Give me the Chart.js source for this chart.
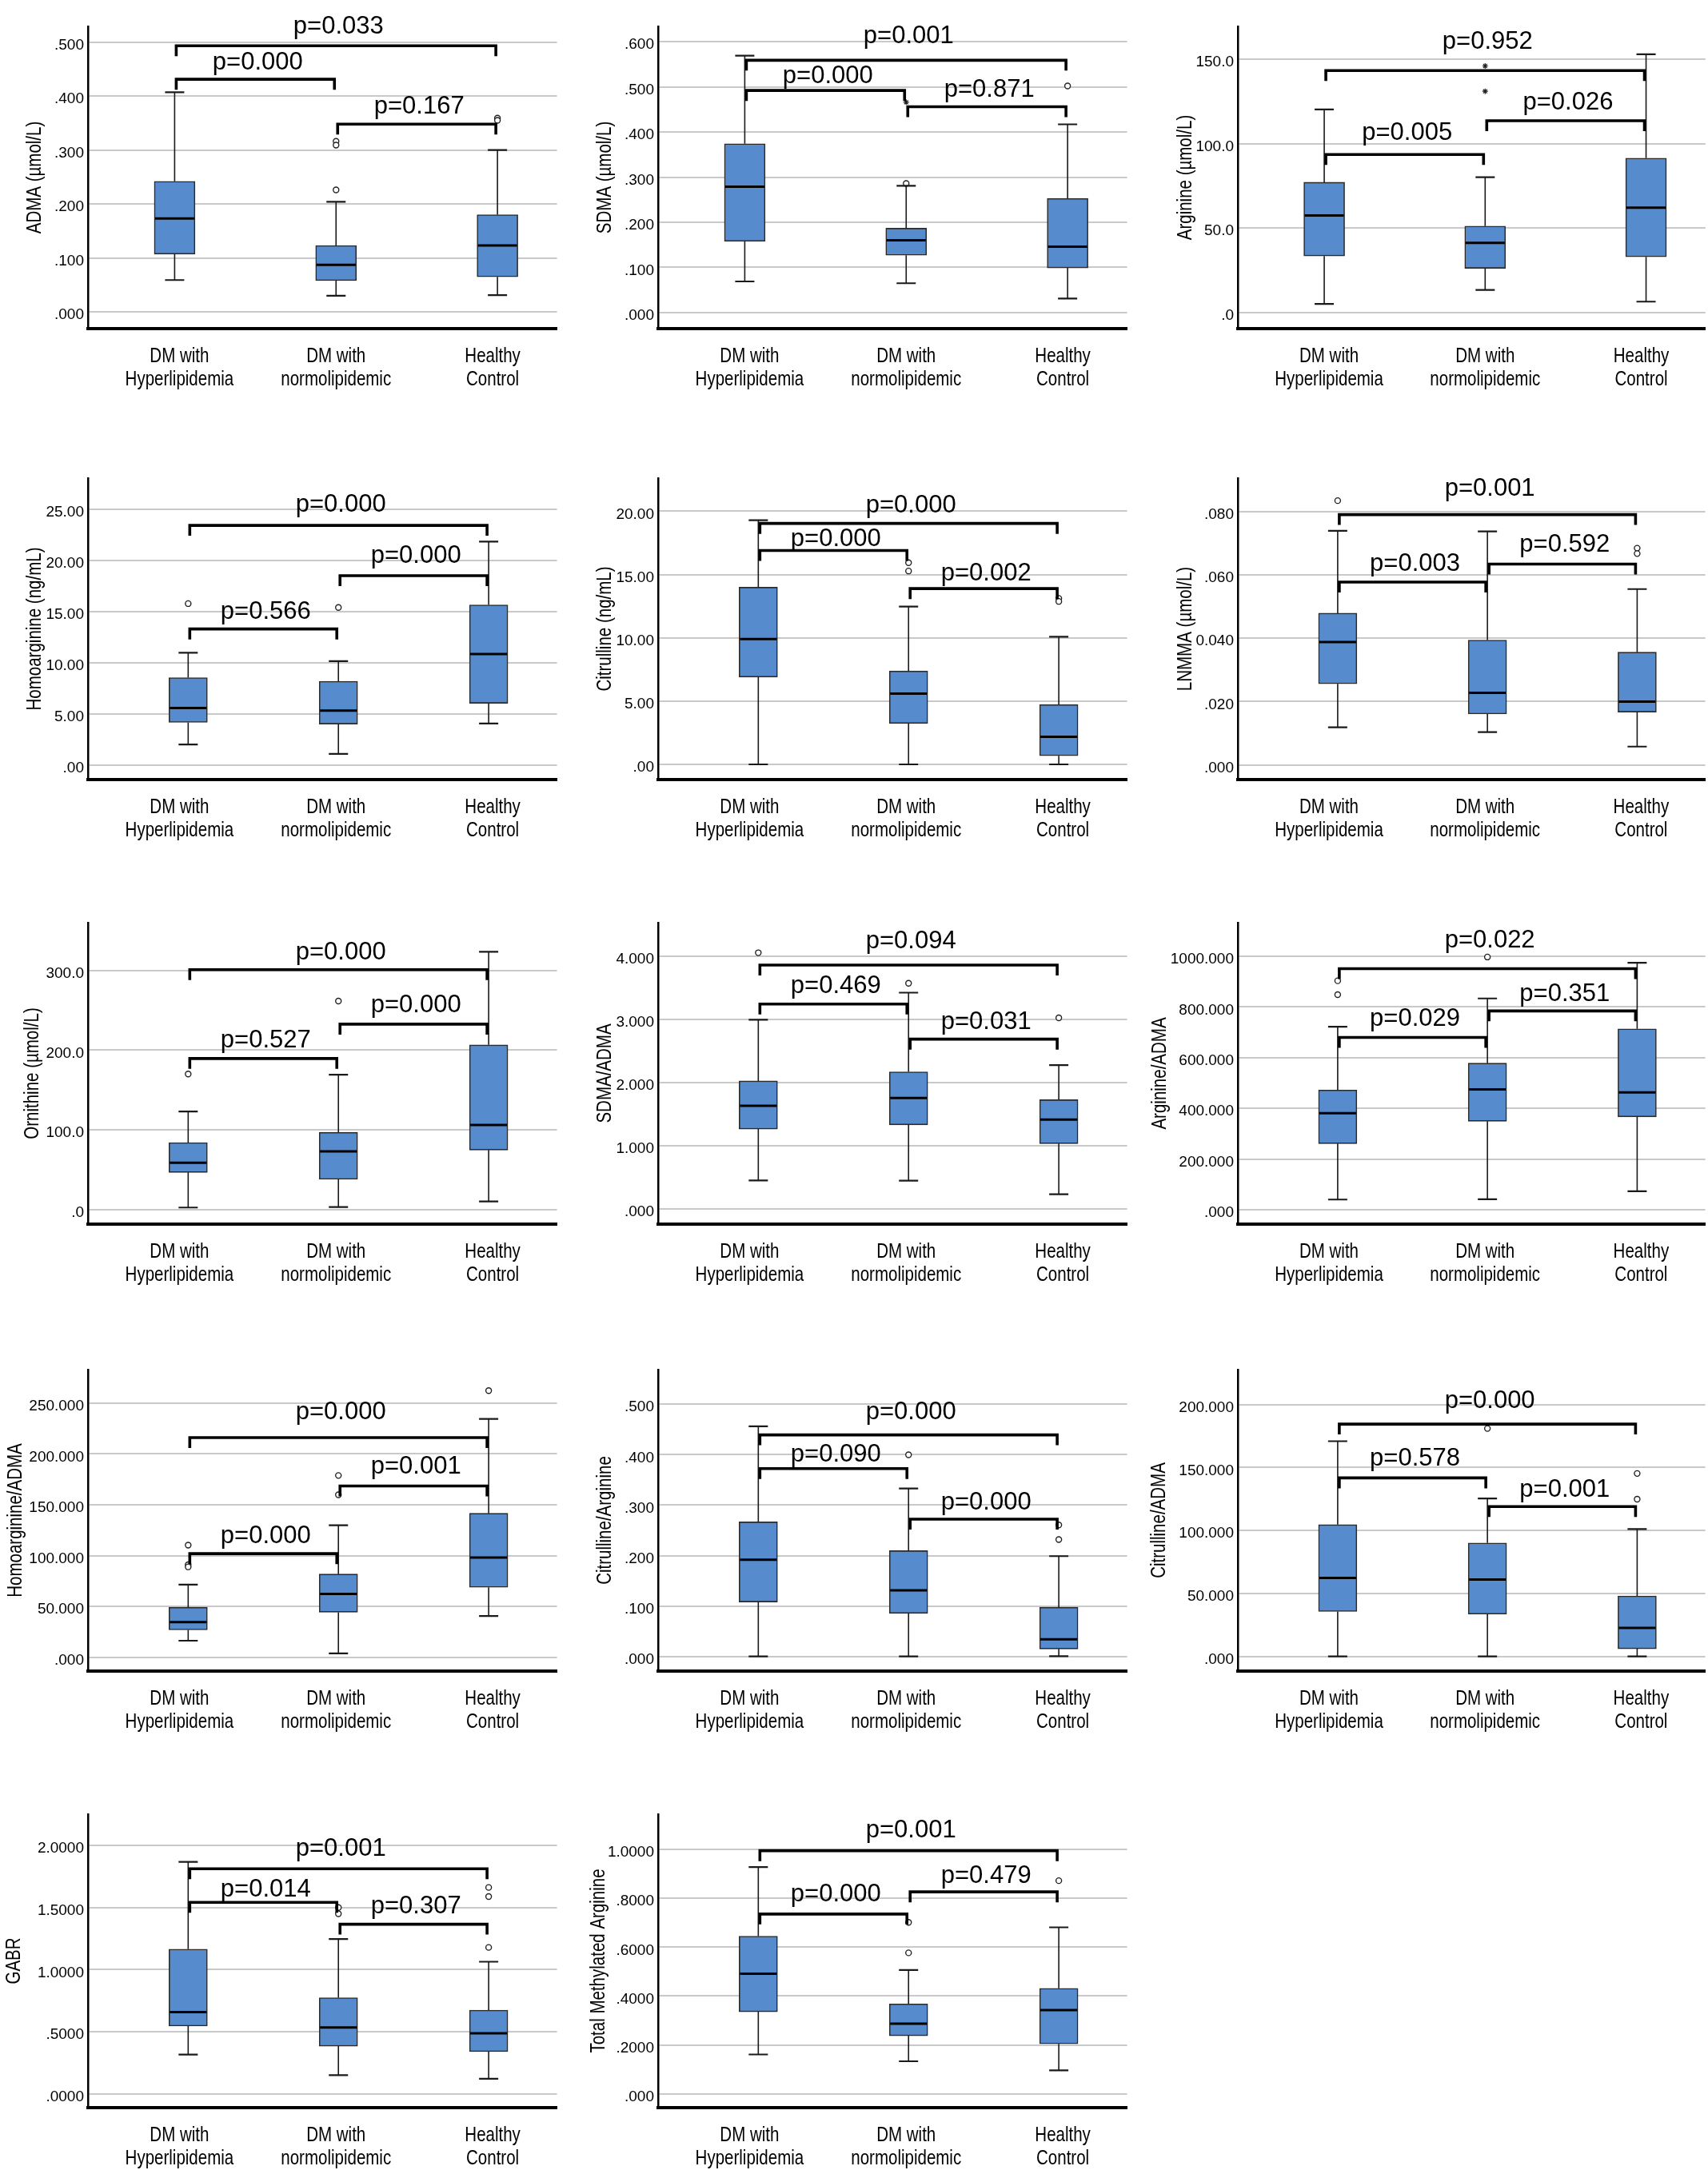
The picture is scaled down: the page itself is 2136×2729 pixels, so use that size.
<!DOCTYPE html>
<html><head><meta charset="utf-8">
<script src="https://cdn.jsdelivr.net/npm/chart.js@4.4.1/dist/chart.umd.min.js"></script>
<style>
html,body{margin:0;padding:0;background:#fff;width:2136px;height:2729px;overflow:hidden;position:relative}
canvas{position:absolute}
</style></head><body>
<script>
// ---------- DATA ----------
const categories = [['DM with','Hyperlipidemia'],['DM with','normolipidemic'],['Healthy','Control']];
// box stats per group: [lower whisker, Q1, median, Q3, upper whisker]

const ADMA_title = 'ADMA (µmol/L)';
const ADMA_range = [-0.031, 0.529];
const ADMA_ticks = [0, 0.1, 0.2, 0.3, 0.4, 0.5];
const ADMA_tickLabels = ['.000','.100','.200','.300','.400','.500'];
const ADMA_box = [[0.059,0.107,0.173,0.242,0.407],[0.030,0.058,0.087,0.123,0.204],[0.031,0.065,0.123,0.180,0.300]];
const ADMA_outliers = [[2,0.316],[2,0.309],[2,0.226],[3,0.359],[3,0.355]];
const ADMA_extremes = [];
const ADMA_brackets = [[1,3,0.493],[1,2,0.431],[2,3,0.348]];
const ADMA_p = ['p=0.033','p=0.000','p=0.167'];

const SDMA_title = 'SDMA (µmol/L)';
const SDMA_range = [-0.0355, 0.634];
const SDMA_ticks = [0, 0.1, 0.2, 0.3, 0.4, 0.5, 0.6];
const SDMA_tickLabels = ['.000','.100','.200','.300','.400','.500','.600'];
const SDMA_box = [[0.069,0.158,0.279,0.374,0.569],[0.065,0.127,0.160,0.187,0.281],[0.031,0.099,0.146,0.253,0.417]];
const SDMA_outliers = [[2,0.286],[3,0.502]];
const SDMA_extremes = [[2,0.466]];
const SDMA_brackets = [[1,3,0.559],[1,2,0.492],[2,3,0.456]];
const SDMA_p = ['p=0.001','p=0.000','p=0.871'];

const ARG_title = 'Arginine (µmol/L)';
const ARG_range = [-9.47, 169.3];
const ARG_ticks = [0, 50, 100, 150];
const ARG_tickLabels = ['.0','50.0','100.0','150.0'];
const ARG_box = [[5.1,33.5,57.5,77.1,120.2],[13.4,26.2,41.2,51.2,80.1],[6.5,33.0,62.1,91.4,152.8]];
const ARG_outliers = [];
const ARG_extremes = [[2,145.9],[2,130.9]];
const ARG_brackets = [[1,3,143.2],[1,2,93.5],[2,3,113.5]];
const ARG_p = ['p=0.952','p=0.005','p=0.026'];

const HARG_title = 'Homoarginine (ng/mL)';
const HARG_range = [-1.43, 28.05];
const HARG_ticks = [0, 5, 10, 15, 20, 25];
const HARG_tickLabels = ['.00','5.00','10.00','15.00','20.00','25.00'];
const HARG_box = [[2.0,4.16,5.57,8.54,10.97],[1.08,4.0,5.32,8.19,10.16],[4.05,6.03,10.84,15.65,21.84]];
const HARG_outliers = [[1,15.78],[2,15.4]];
const HARG_extremes = [];
const HARG_brackets = [[1,3,23.43],[2,3,18.51],[1,2,13.3]];
const HARG_p = ['p=0.000','p=0.000','p=0.566'];

const CIT_title = 'Citrulline (ng/mL)';
const CIT_range = [-1.2, 22.62];
const CIT_ticks = [0, 5, 10, 15, 20];
const CIT_tickLabels = ['.00','5.00','10.00','15.00','20.00'];
const CIT_box = [[0,6.9,9.91,14.0,19.3],[0,3.23,5.59,7.38,12.47],[0,0.68,2.18,4.72,10.09]];
const CIT_outliers = [[2,15.94],[2,15.28],[3,13.12],[3,12.88]];
const CIT_extremes = [];
const CIT_brackets = [[1,3,19.04],[1,2,16.9],[2,3,13.89]];
const CIT_p = ['p=0.000','p=0.000','p=0.002'];

const LNMMA_title = 'LNMMA (µmol/L)';
const LNMMA_range = [-0.0046, 0.0905];
const LNMMA_ticks = [0, 0.02, 0.04, 0.06, 0.08];
const LNMMA_tickLabels = ['.000','.020','0.040','.060','.080'];
const LNMMA_box = [[0.0119,0.0256,0.0388,0.0479,0.0739],[0.0104,0.0161,0.0228,0.0394,0.0737],[0.0058,0.0167,0.0200,0.0356,0.0555]];
const LNMMA_outliers = [[1,0.0834],[3,0.0684],[3,0.0667]];
const LNMMA_extremes = [];
const LNMMA_brackets = [[1,3,0.079],[1,2,0.0577],[2,3,0.0634]];
const LNMMA_p = ['p=0.001','p=0.003','p=0.592'];

const ORN_title = 'Ornithine (µmol/L)';
const ORN_range = [-18.0, 359.6];
const ORN_ticks = [0, 100, 200, 300];
const ORN_tickLabels = ['.0','100.0','200.0','300.0'];
const ORN_box = [[2.8,46.8,58.9,84.2,123.0],[3.5,38.1,73.1,97.0,169.1],[10.4,74.8,106.3,206.5,323.2]];
const ORN_outliers = [[1,170.1],[2,261.5]];
const ORN_extremes = [];
const ORN_brackets = [[1,3,300.7],[2,3,232.5],[1,2,189.5]];
const ORN_p = ['p=0.000','p=0.000','p=0.527'];

const SA_title = 'SDMA/ADMA';
const SA_range = [-0.24, 4.525];
const SA_ticks = [0, 1, 2, 3, 4];
const SA_tickLabels = ['.000','1.000','2.000','3.000','4.000'];
const SA_box = [[0.45,1.263,1.631,2.024,2.99],[0.446,1.329,1.753,2.168,3.419],[0.232,1.032,1.412,1.727,2.273]];
const SA_outliers = [[1,4.05],[2,3.567],[3,3.02]];
const SA_extremes = [];
const SA_brackets = [[1,3,3.856],[1,2,3.239],[2,3,2.684]];
const SA_p = ['p=0.094','p=0.469','p=0.031'];

const AA_title = 'Arginine/ADMA';
const AA_range = [-56.7, 1132];
const AA_ticks = [0, 200, 400, 600, 800, 1000];
const AA_tickLabels = ['.000','200.000','400.000','600.000','800.000','1000.000'];
const AA_box = [[40.3,260.6,380.6,472.2,721.9],[41.4,349,474.4,578,833.2],[73.1,366.4,462.4,713.2,973.8]];
const AA_outliers = [[1,903],[1,848.4],[2,996.7]];
const AA_extremes = [];
const AA_brackets = [[1,3,950.9],[1,2,679.4],[2,3,784.1]];
const AA_p = ['p=0.022','p=0.029','p=0.351'];

const HA_title = 'Homoarginine/ADMA';
const HA_range = [-13.6, 282.9];
const HA_ticks = [0, 50, 100, 150, 200, 250];
const HA_tickLabels = ['.000','50.000','100.000','150.000','200.000','250.000'];
const HA_box = [[16.3,26.9,34.5,49.2,71.5],[3.8,44.3,62.2,81.8,129.9],[40.5,68.8,98.1,141.6,234.5]];
const HA_outliers = [[1,110.3],[1,91.0],[1,88.9],[2,178.8],[2,159.8],[3,262.2]];
const HA_extremes = [];
const HA_brackets = [[1,3,216],[2,3,168.5],[1,2,101.9]];
const HA_p = ['p=0.000','p=0.001','p=0.000'];

const CA_title = 'Citrulline/Arginine';
const CA_range = [-0.029, 0.5685];
const CA_ticks = [0, 0.1, 0.2, 0.3, 0.4, 0.5];
const CA_tickLabels = ['.000','.100','.200','.300','.400','.500'];
const CA_box = [[0,0.1079,0.1917,0.2667,0.4562],[0,0.0854,0.1309,0.2097,0.333],[0.0005,0.0148,0.034,0.0975,0.1988]];
const CA_outliers = [[2,0.3998],[3,0.2607],[3,0.2317]];
const CA_extremes = [];
const CA_brackets = [[1,3,0.4392],[1,2,0.3724],[2,3,0.2722]];
const CA_p = ['p=0.000','p=0.090','p=0.000'];

const CD_title = 'Citrulline/ADMA';
const CD_range = [-11.6, 227.6];
const CD_ticks = [0, 50, 100, 150, 200];
const CD_tickLabels = ['.000','50.000','100.000','150.000','200.000'];
const CD_box = [[0,35.7,62.3,104.6,170.8],[0,33.6,61.0,90.1,125.4],[0,6.1,22.6,48.0,101.1]];
const CD_outliers = [[2,180.9],[3,145.2],[3,124.8]];
const CD_extremes = [];
const CD_brackets = [[1,3,184.4],[1,2,141.7],[2,3,118.9]];
const CD_p = ['p=0.000','p=0.578','p=0.001'];

const GABR_title = 'GABR';
const GABR_range = [-0.111, 2.252];
const GABR_ticks = [0, 0.5, 1, 1.5, 2];
const GABR_tickLabels = ['.0000','.5000','1.0000','1.5000','2.0000'];
const GABR_box = [[0.317,0.5456,0.659,1.165,1.868],[0.151,0.384,0.535,0.774,1.2466],[0.122,0.34,0.487,0.674,1.064]];
const GABR_outliers = [[2,1.50],[2,1.45],[3,1.662],[3,1.589],[3,1.179]];
const GABR_extremes = [];
const GABR_brackets = [[1,3,1.813],[1,2,1.542],[2,3,1.366]];
const GABR_p = ['p=0.001','p=0.014','p=0.307'];

const TMA_title = 'Total Methylated Arginine';
const TMA_range = [-0.0565, 1.144];
const TMA_ticks = [0, 0.2, 0.4, 0.6, 0.8, 1.0];
const TMA_tickLabels = ['.000','.2000','.4000','.6000','.8000','1.0000'];
const TMA_box = [[0.161,0.3358,0.4915,0.645,0.9275],[0.1333,0.2377,0.2868,0.3678,0.5064],[0.0959,0.2047,0.3422,0.4318,0.6812]];
const TMA_outliers = [[2,0.7015],[2,0.5768],[3,0.872]];
const TMA_extremes = [];
const TMA_brackets = [[1,3,0.9947],[1,2,0.7356],[2,3,0.8262]];
const TMA_p = ['p=0.001','p=0.000','p=0.479'];

// ---------- TABLE (built from the arrays above; titleOff / gaps are layout) ----------
const panels = [
  {title:ADMA_title, range:ADMA_range, ticks:ADMA_ticks, labels:ADMA_tickLabels, box:ADMA_box, out:ADMA_outliers, ext:ADMA_extremes, br:ADMA_brackets, p:ADMA_p, titleOff:66, gaps:[15,12,13]},
  {title:SDMA_title, range:SDMA_range, ticks:SDMA_ticks, labels:SDMA_tickLabels, box:SDMA_box, out:SDMA_outliers, ext:SDMA_extremes, br:SDMA_brackets, p:SDMA_p, titleOff:66, gaps:[21,9,12]},
  {title:ARG_title, range:ARG_range, ticks:ARG_ticks, labels:ARG_tickLabels, box:ARG_box, out:ARG_outliers, ext:ARG_extremes, br:ARG_brackets, p:ARG_p, titleOff:65, gaps:[27,18,14]},
  {title:HARG_title, range:HARG_range, ticks:HARG_ticks, labels:HARG_tickLabels, box:HARG_box, out:HARG_outliers, ext:HARG_extremes, br:HARG_brackets, p:HARG_p, titleOff:66, gaps:[17,16,13]},
  {title:CIT_title, range:CIT_range, ticks:CIT_ticks, labels:CIT_tickLabels, box:CIT_box, out:CIT_outliers, ext:CIT_extremes, br:CIT_brackets, p:CIT_p, titleOff:66, gaps:[14,6,10]},
  {title:LNMMA_title, range:LNMMA_range, ticks:LNMMA_ticks, labels:LNMMA_tickLabels, box:LNMMA_box, out:LNMMA_outliers, ext:LNMMA_extremes, br:LNMMA_brackets, p:LNMMA_p, titleOff:65, gaps:[24,14,15]},
  {title:ORN_title, range:ORN_range, ticks:ORN_ticks, labels:ORN_tickLabels, box:ORN_box, out:ORN_outliers, ext:ORN_extremes, br:ORN_brackets, p:ORN_p, titleOff:69, gaps:[13,14.5,14]},
  {title:SA_title, range:SA_range, ticks:SA_ticks, labels:SA_tickLabels, box:SA_box, out:SA_outliers, ext:SA_extremes, br:SA_brackets, p:SA_p, titleOff:66, gaps:[21,14,13]},
  {title:AA_title, range:AA_range, ticks:AA_ticks, labels:AA_tickLabels, box:AA_box, out:AA_outliers, ext:AA_extremes, br:AA_brackets, p:AA_p, titleOff:97, gaps:[26,14.5,12]},
  {title:HA_title, range:HA_range, ticks:HA_ticks, labels:HA_tickLabels, box:HA_box, out:HA_outliers, ext:HA_extremes, br:HA_brackets, p:HA_p, titleOff:90, gaps:[23.5,15.5,13]},
  {title:CA_title, range:CA_range, ticks:CA_ticks, labels:CA_tickLabels, box:CA_box, out:CA_outliers, ext:CA_extremes, br:CA_brackets, p:CA_p, titleOff:66, gaps:[20,9,11.5]},
  {title:CD_title, range:CD_range, ticks:CD_ticks, labels:CD_tickLabels, box:CD_box, out:CD_outliers, ext:CD_extremes, br:CD_brackets, p:CD_p, titleOff:98, gaps:[20.5,15,12.5]},
  {title:GABR_title, range:GABR_range, ticks:GABR_ticks, labels:GABR_tickLabels, box:GABR_box, out:GABR_outliers, ext:GABR_extremes, br:GABR_brackets, p:GABR_p, titleOff:92, gaps:[16,7.5,13.5]},
  {title:TMA_title, range:TMA_range, ticks:TMA_ticks, labels:TMA_tickLabels, box:TMA_box, out:TMA_outliers, ext:TMA_extremes, br:TMA_brackets, p:TMA_p, titleOff:74, gaps:[17,15.5,11]}
];

// ---------- LAYOUT / STYLE ----------
const SANS = "'Liberation Sans',Arial,sans-serif";
const SQUEEZE = 0.82;   // horizontal condensing of axis texts
const ROW_TOP = [33, 598, 1154, 1713, 2269];
const ROW_BOT = [411, 975, 1531, 2090, 2636];
const COL_L = [110, 823, 1548];
const COL_R = [700, 1413, 2136];
const BOX_COLOR = '#568ccd';

function condensedText(ctx, text, x, y, rot){
  ctx.save();
  ctx.translate(x, y);
  if (rot) ctx.rotate(rot);
  ctx.scale(SQUEEZE, 1);
  ctx.fillText(text, 0, 0);
  ctx.restore();
}

function makePlugin(P, bw){
  return {
    id: 'boxExtras',
    afterDatasetsDraw(chart){
      const xs = chart.scales.x, ys = chart.scales.y, ctx = chart.ctx;
      ctx.save();
      ctx.lineCap = 'butt';
      P.box.forEach((b, i) => {
        const x = xs.getPixelForValue(i + 1);
        const yMin = ys.getPixelForValue(b[0]), yQ1 = ys.getPixelForValue(b[1]),
              yMed = ys.getPixelForValue(b[2]), yQ3 = ys.getPixelForValue(b[3]),
              yMax = ys.getPixelForValue(b[4]);
        ctx.strokeStyle = '#1a1a1a';
        ctx.lineWidth = 1.6;
        ctx.beginPath();
        ctx.moveTo(x, yQ3); ctx.lineTo(x, yMax);
        ctx.moveTo(x, yQ1); ctx.lineTo(x, yMin);
        ctx.stroke();
        ctx.lineWidth = 2.2;
        ctx.beginPath();
        ctx.moveTo(x - 12, yMax); ctx.lineTo(x + 12, yMax);
        ctx.moveTo(x - 12, yMin); ctx.lineTo(x + 12, yMin);
        ctx.stroke();
        ctx.strokeStyle = '#000';
        ctx.lineWidth = 3;
        ctx.beginPath();
        ctx.moveTo(x - bw / 2 + 1, yMed); ctx.lineTo(x + bw / 2 - 1, yMed);
        ctx.stroke();
      });
      ctx.restore();
    },
    afterDraw(chart){
      const xs = chart.scales.x, ys = chart.scales.y, xl = chart.scales.xl, ctx = chart.ctx;
      const area = chart.chartArea;
      ctx.save();
      // significance brackets
      ctx.strokeStyle = '#000';
      ctx.lineWidth = 3.6;
      ctx.lineJoin = 'miter';
      ctx.lineCap = 'butt';
      ctx.fillStyle = '#000';
      ctx.font = '31px ' + SANS;
      ctx.textAlign = 'center';
      ctx.textBaseline = 'alphabetic';
      P.br.forEach((br, j) => {
        const x1 = xs.getPixelForValue(br[0]) + 2, x2 = xs.getPixelForValue(br[1]) - 2;
        const y = ys.getPixelForValue(br[2]);
        ctx.beginPath();
        ctx.moveTo(x1, y + 13); ctx.lineTo(x1, y); ctx.lineTo(x2, y); ctx.lineTo(x2, y + 13);
        ctx.stroke();
        ctx.fillText(P.p[j], (x1 + x2) / 2 + 3, y - P.gaps[j]);
      });
      // category labels (condensed), placed at the label axis ticks
      ctx.font = '25px ' + SANS;
      xl.ticks.forEach((t, i) => {
        const x = xl.getPixelForValue(t.value);
        categories[i].forEach((line, j) => condensedText(ctx, line, x, xl.top + 42 + j * 29, 0));
      });
      // y-axis title (condensed, rotated)
      ctx.textBaseline = 'middle';
      condensedText(ctx, P.title, area.left - P.titleOff, (area.top + area.bottom) / 2, -Math.PI / 2);
      ctx.restore();
    }
  };
}

function makePanel(k, P){
  const r = Math.floor(k / 3), c = k % 3;
  const WY = 120, PT = 70, XH = 110, PR = 2;
  const plotW = COL_R[c] - COL_L[c], plotH = ROW_BOT[r] - ROW_TOP[r];
  const W = WY + plotW + PR, H = PT + plotH + XH;
  const cv = document.createElement('canvas');
  cv.width = W; cv.height = H;
  cv.style.left = (COL_L[c] - WY) + 'px';
  cv.style.top = (ROW_TOP[r] - PT) + 'px';
  cv.style.width = W + 'px'; cv.style.height = H + 'px';
  document.body.appendChild(cv);
  const bw = r === 0 ? 51 : 48;
  const xr = r === 0 ? [0.463, 3.369] : [0.333, 3.455];
  new Chart(cv, {
    type: 'bar',
    data: {
      datasets: [
        {type:'bar', xAxisID:'x', yAxisID:'y',
         data: P.box.map((b, i) => ({x: i + 1, y: [b[1], b[3]]})),
         backgroundColor: BOX_COLOR, borderColor: '#2b2b2b', borderWidth: 1.6,
         borderSkipped: false, barThickness: bw},
        {type:'scatter', xAxisID:'x', yAxisID:'y',
         data: P.out.map(o => ({x: o[0], y: o[1]})),
         pointStyle:'circle', pointRadius:3.5, pointBorderWidth:1.4,
         pointBorderColor:'#222', pointBackgroundColor:'#fff'},
        {type:'scatter', xAxisID:'x', yAxisID:'y',
         data: P.ext.map(o => ({x: o[0], y: o[1]})),
         pointStyle:'star', pointRadius:3.5, pointBorderWidth:1.2,
         pointBorderColor:'#222', pointBackgroundColor:'#222'}
      ]
    },
    options: {
      responsive: false, animation: false, events: [],
      layout: {padding: {top: PT, left: 0, right: PR, bottom: 0}},
      plugins: {legend: {display: false}, tooltip: {enabled: false}},
      scales: {
        x: {type:'linear', display:false, offset:false, min:xr[0], max:xr[1]},
        xl: {type:'linear', position:'bottom', offset:false, min:0.416, max:3.411,
          afterBuildTicks: s => { s.ticks = [1, 2, 3].map(v => ({value: v})); },
          afterFit: s => { s.height = XH; },
          grid: {display:false, drawTicks:false},
          border: {display:true, color:'#000', width:4},
          ticks: {display:false, callback: (v, i) => categories[i]}
        },
        y: {type:'linear', min:P.range[0], max:P.range[1],
          afterBuildTicks: s => { s.ticks = P.ticks.map(v => ({value: v})); },
          afterFit: s => { s.width = WY; },
          grid: {color:'#c9c9c9', lineWidth:2, drawTicks:false},
          border: {color:'#000', width:2.5},
          ticks: {padding:5, labelOffset:4, color:'#000', autoSkip:false,
            font:{family:SANS, size:19},
            callback: (v, i) => P.labels[i]},
          title: {display:false, text:P.title}
        }
      }
    },
    plugins: [makePlugin(P, bw)]
  });
}

panels.forEach((P, k) => makePanel(k, P));
</script>
</body></html>
